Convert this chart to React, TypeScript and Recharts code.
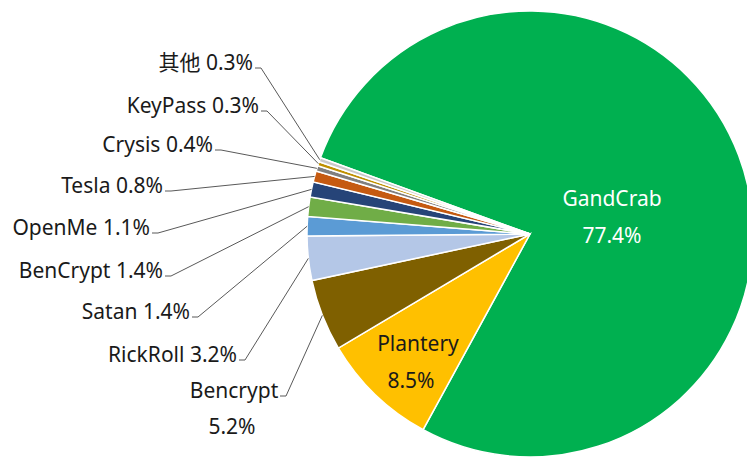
import { PieChart, Pie, Cell } from 'recharts'

const families = ['GandCrab', 'Plantery', 'Bencrypt', 'RickRoll', 'Satan', 'BenCrypt', 'OpenMe', 'Tesla', 'Crysis', 'KeyPass', '其他']
const shares = [77.4, 8.5, 5.2, 3.2, 1.4, 1.4, 1.1, 0.8, 0.4, 0.3, 0.3]
const colors = ['#00B050', '#FFC000', '#7F6000', '#B4C7E7', '#5B9BD5', '#70AD47', '#264478', '#C55A11', '#7F7F7F', '#BF9000', '#C9C9C9']

const data = families.map((name, i) => ({ name, value: shares[i] }))

// where each label sits (text anchor point), by slice index
type Spot = { x: number; y: number; anchor: 'start' | 'middle' | 'end'; inside?: boolean; split?: boolean; color?: string }
const labelSpots: Spot[] = [
  { x: 612, y: 198, anchor: 'middle', inside: true, split: true, color: '#ffffff' },
  { x: 418, y: 343, anchor: 'middle', inside: true, split: true, color: '#1a1a1a' },
  { x: 234, y: 390, anchor: 'middle', split: true },
  { x: 237, y: 354, anchor: 'end' },
  { x: 190, y: 311, anchor: 'end' },
  { x: 163, y: 270, anchor: 'end' },
  { x: 150, y: 227, anchor: 'end' },
  { x: 163, y: 185, anchor: 'end' },
  { x: 213, y: 144, anchor: 'end' },
  { x: 259, y: 105, anchor: 'end' },
  { x: 253, y: 62, anchor: 'end' },
]

const RAD = Math.PI / 180
const FONT = '"Noto Sans", "Noto Sans CJK SC", sans-serif'
const SIZE = 21

function renderLabel(props: any) {
  const { cx, cy, midAngle, outerRadius, index } = props
  const name = families[index]
  const pct = `${shares[index]}%`
  const s = labelSpots[index]
  const fill = s.color || '#1a1a1a'
  if (s.inside) {
    return (
      <g key={name}>
        <text x={s.x} y={s.y} textAnchor="middle" dominantBaseline="central" fill={fill} fontSize={SIZE} fontFamily={FONT}>{name}</text>
        <text x={s.x - (index === 1 ? 7 : 0)} y={s.y + 37} textAnchor="middle" dominantBaseline="central" fill={fill} fontSize={SIZE} fontFamily={FONT}>{pct}</text>
      </g>
    )
  }
  const ex = cx + outerRadius * Math.cos(-midAngle * RAD)
  const ey = cy + outerRadius * Math.sin(-midAngle * RAD)
  let sx = s.x + 2
  if (s.split) sx = s.x + 46
  const sy = s.y + 6
  return (
    <g key={name}>
      {s.split ? (
        <>
          <text x={s.x} y={s.y} textAnchor="middle" dominantBaseline="central" fill={fill} fontSize={SIZE} fontFamily={FONT}>{name}</text>
          <text x={s.x - 2} y={s.y + 36} textAnchor="middle" dominantBaseline="central" fill={fill} fontSize={SIZE} fontFamily={FONT}>{pct}</text>
        </>
      ) : (
        <text x={s.x} y={s.y} textAnchor="end" dominantBaseline="central" fill={fill} fontSize={SIZE} fontFamily={FONT}>{`${name} ${pct}`}</text>
      )}
      <polyline points={`${sx},${sy} ${sx + 6},${sy} ${ex},${ey}`} fill="none" stroke="#595959" strokeWidth={1} />
    </g>
  )
}

export default function App() {
  return (
    <div style={{ position: 'absolute', left: 0, top: 0, width: 747, height: 457, background: '#ffffff' }}>
      <PieChart width={747} height={457} margin={{ top: 0, right: 0, bottom: 0, left: 0 }}>
        <Pie
          data={data}
          dataKey="value"
          nameKey="name"
          cx={530}
          cy={234}
          outerRadius={223}
          startAngle={160}
          endAngle={-200}
          stroke="#ffffff"
          strokeWidth={1.5}
          label={renderLabel}
          labelLine={false}
          isAnimationActive={false}
        >
          {data.map((d, i) => (
            <Cell key={d.name} fill={colors[i]} />
          ))}
        </Pie>
      </PieChart>
    </div>
  )
}
